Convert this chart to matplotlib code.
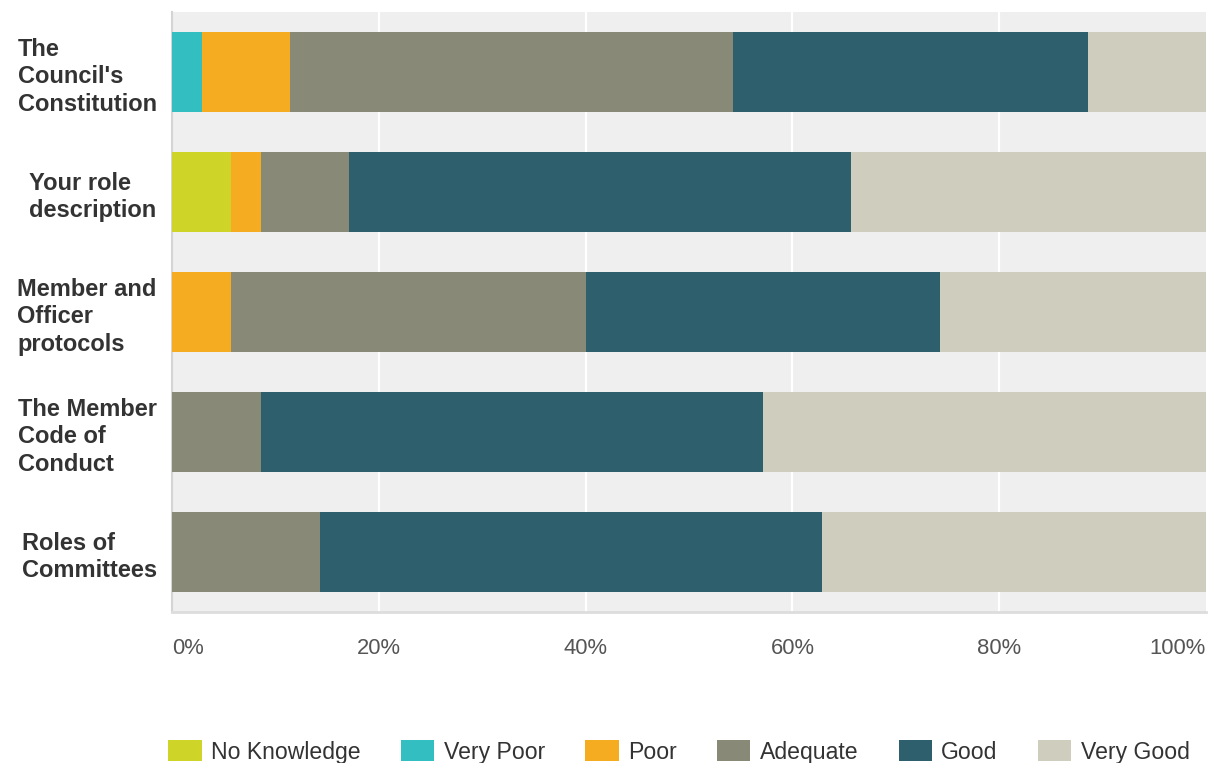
import matplotlib
matplotlib.use("Agg")
import matplotlib.pyplot as plt
from matplotlib.patches import FancyBboxPatch
from matplotlib.legend_handler import HandlerPatch
import numpy as np

plt.rcParams['font.family'] = ['Liberation Sans', 'DejaVu Sans']

topics = [
    "The\nCouncil's\nConstitution",
    "Your role\ndescription",
    "Member and\nOfficer\nprotocols",
    "The Member\nCode of\nConduct",
    "Roles of\nCommittees",
]
ratings = ["No Knowledge", "Very Poor", "Poor", "Adequate", "Good", "Very Good"]
colors = ["#cfd428", "#33bfc1", "#f5ac20", "#898977", "#2e5f6c", "#cfcdbd"]

# percentage of respondents per rating, one list per rating (topic order as above)
no_knowledge = [0.0, 5.71, 0.0, 0.0, 0.0]
very_poor = [2.86, 0.0, 0.0, 0.0, 0.0]
poor = [8.57, 2.86, 5.71, 0.0, 0.0]
adequate = [42.86, 8.57, 34.29, 8.57, 14.29]
good = [34.29, 48.57, 34.29, 48.57, 48.57]
very_good = [11.43, 34.29, 25.71, 42.86, 37.14]
series = [no_knowledge, very_poor, poor, adequate, good, very_good]

tick_vals = [0, 20, 40, 60, 80, 100]
tick_labels = ["0%", "20%", "40%", "60%", "80%", "100%"]

W, H = 1214, 763
fig = plt.figure(figsize=(W / 100, H / 100), dpi=100)
ax = fig.add_axes([172 / W, 1 - 612 / H, (1206 - 172) / W, (612 - 12) / H])
ax.set_facecolor("#efefef")

y = np.arange(len(topics))
left = np.zeros(len(topics))
for vals, col, name in zip(series, colors, ratings):
    vals = np.array(vals)
    ax.barh(y, vals, left=left, height=0.667, color=col, label=name, zorder=3)
    left += vals

ax.set_xlim(0, 100)
ax.set_ylim(len(topics) - 0.5, -0.5)

for v in tick_vals[1:-1]:
    ax.axvline(v, color="white", lw=1.6, zorder=1)

ax.set_yticks(y)
ax.set_yticklabels(topics, fontsize=17, fontweight="bold", color="#333333",
                   ha="right", multialignment="left", linespacing=1.27)
ax.tick_params(axis="y", length=0, pad=11)

ax.set_xticks(tick_vals)
ax.set_xticklabels(tick_labels, fontsize=15.8, color="#555555")
ax.tick_params(axis="x", length=0, pad=30)
xt = ax.get_xticklabels()
xt[0].set_ha("left")
xt[-1].set_ha("right")
for t in xt:
    t.set_va("baseline")

for s in ["top", "right"]:
    ax.spines[s].set_visible(False)
ax.spines["left"].set_color("#d4d4d4")
ax.spines["left"].set_linewidth(1.5)
ax.spines["bottom"].set_color("#dddddd")
ax.spines["bottom"].set_linewidth(2)


def rounded_box(legend, orig_handle, xdescent, ydescent, width, height, fontsize):
    return FancyBboxPatch((-xdescent, -ydescent - 3), width, height + 4,
                          boxstyle="round,pad=0,rounding_size=3")


handles, labels = ax.get_legend_handles_labels()
leg = fig.legend(handles, labels, loc="center", bbox_to_anchor=(0.5 * (168 + 1190) / W, 1 - 752 / H),
                 ncol=6, frameon=False, fontsize=16.6, handlelength=1.45, handleheight=1.0,
                 handletextpad=0.4, columnspacing=1.75, borderaxespad=0, borderpad=0,
                 handler_map={matplotlib.patches.Rectangle: HandlerPatch(patch_func=rounded_box)})
for t in leg.get_texts():
    t.set_color("#333333")

fig.savefig("out.png", dpi=100)
